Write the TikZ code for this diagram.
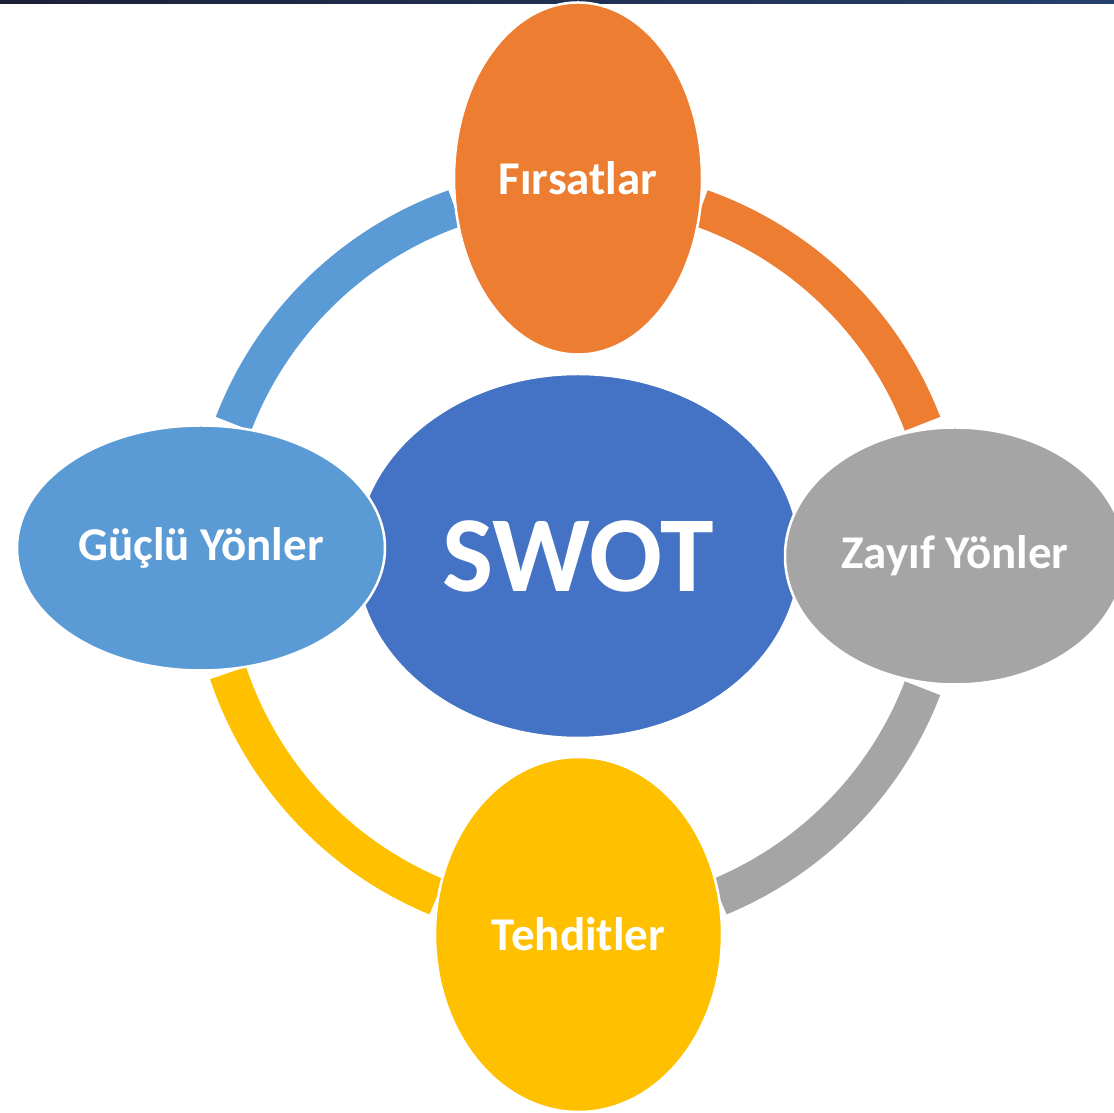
\documentclass[tikz,border=0pt]{standalone}
\usepackage{fontspec}
\setmainfont{Carlito}
\usepackage{xcolor}
\definecolor{colorSwot}{HTML}{4472C4}
\definecolor{colorFirsat}{HTML}{ED7D31}
\definecolor{colorZayif}{HTML}{A5A5A5}
\definecolor{colorTehdit}{HTML}{FFC000}
\definecolor{colorGuclu}{HTML}{5B9BD5}
\definecolor{colorBarLeft}{HTML}{1B2038}
\definecolor{colorBarRight}{HTML}{25406A}
\usetikzlibrary{shapes.geometric, positioning}
\tikzset{
  part/.style={ellipse, draw=white, line width=2.5pt, text=white, inner sep=0pt,
    font=\bfseries\fontsize{47}{56}\selectfont},
  band/.style={line width=38pt}
}

\begin{document}
\begin{tikzpicture}[x=1pt, y=1pt, node distance=377pt]
\useasboundingbox (0,0) rectangle (1114,1113);
\shade[left color=colorBarLeft, right color=colorBarRight] (0,1109) rectangle (1114,1113);
\node[part, fill=colorSwot, minimum width=444pt, minimum height=364pt, font=\bfseries\fontsize{108}{120}\selectfont] (swot) at (578,557) {SWOT};
% bands of the cycle
\draw[band, colorFirsat] ([shift={(70.5:369)}]swot.center) arc[start angle=70.5, end angle=21, radius=369];
\draw[band, colorZayif] ([shift={(-21:369)}]swot.center) arc[start angle=-21, end angle=-67.5, radius=369];
\draw[band, colorTehdit] ([shift={(-112.5:369)}]swot.center) arc[start angle=-112.5, end angle=-161.5, radius=369];
\draw[band, colorGuclu] ([shift={(159:369)}]swot.center) arc[start angle=159, end angle=109.5, radius=369];
\node[part, fill=colorFirsat, minimum width=248pt, minimum height=352pt, above of=swot, yshift=0.5pt] (firsat) {Fırsatlar};
\node[part, fill=colorZayif, minimum width=340pt, minimum height=257pt, right of=swot] (zayif) {Zayıf Yönler};
\node[part, fill=colorTehdit, minimum width=287pt, minimum height=355pt, below of=swot, xshift=0.5pt, yshift=-1.5pt] (tehdit) {Tehditler};
\node[part, fill=colorGuclu, minimum width=368pt, minimum height=245pt, left of=swot, yshift=8pt] (guclu) {Güçlü Yönler};
\end{tikzpicture}
\end{document}
